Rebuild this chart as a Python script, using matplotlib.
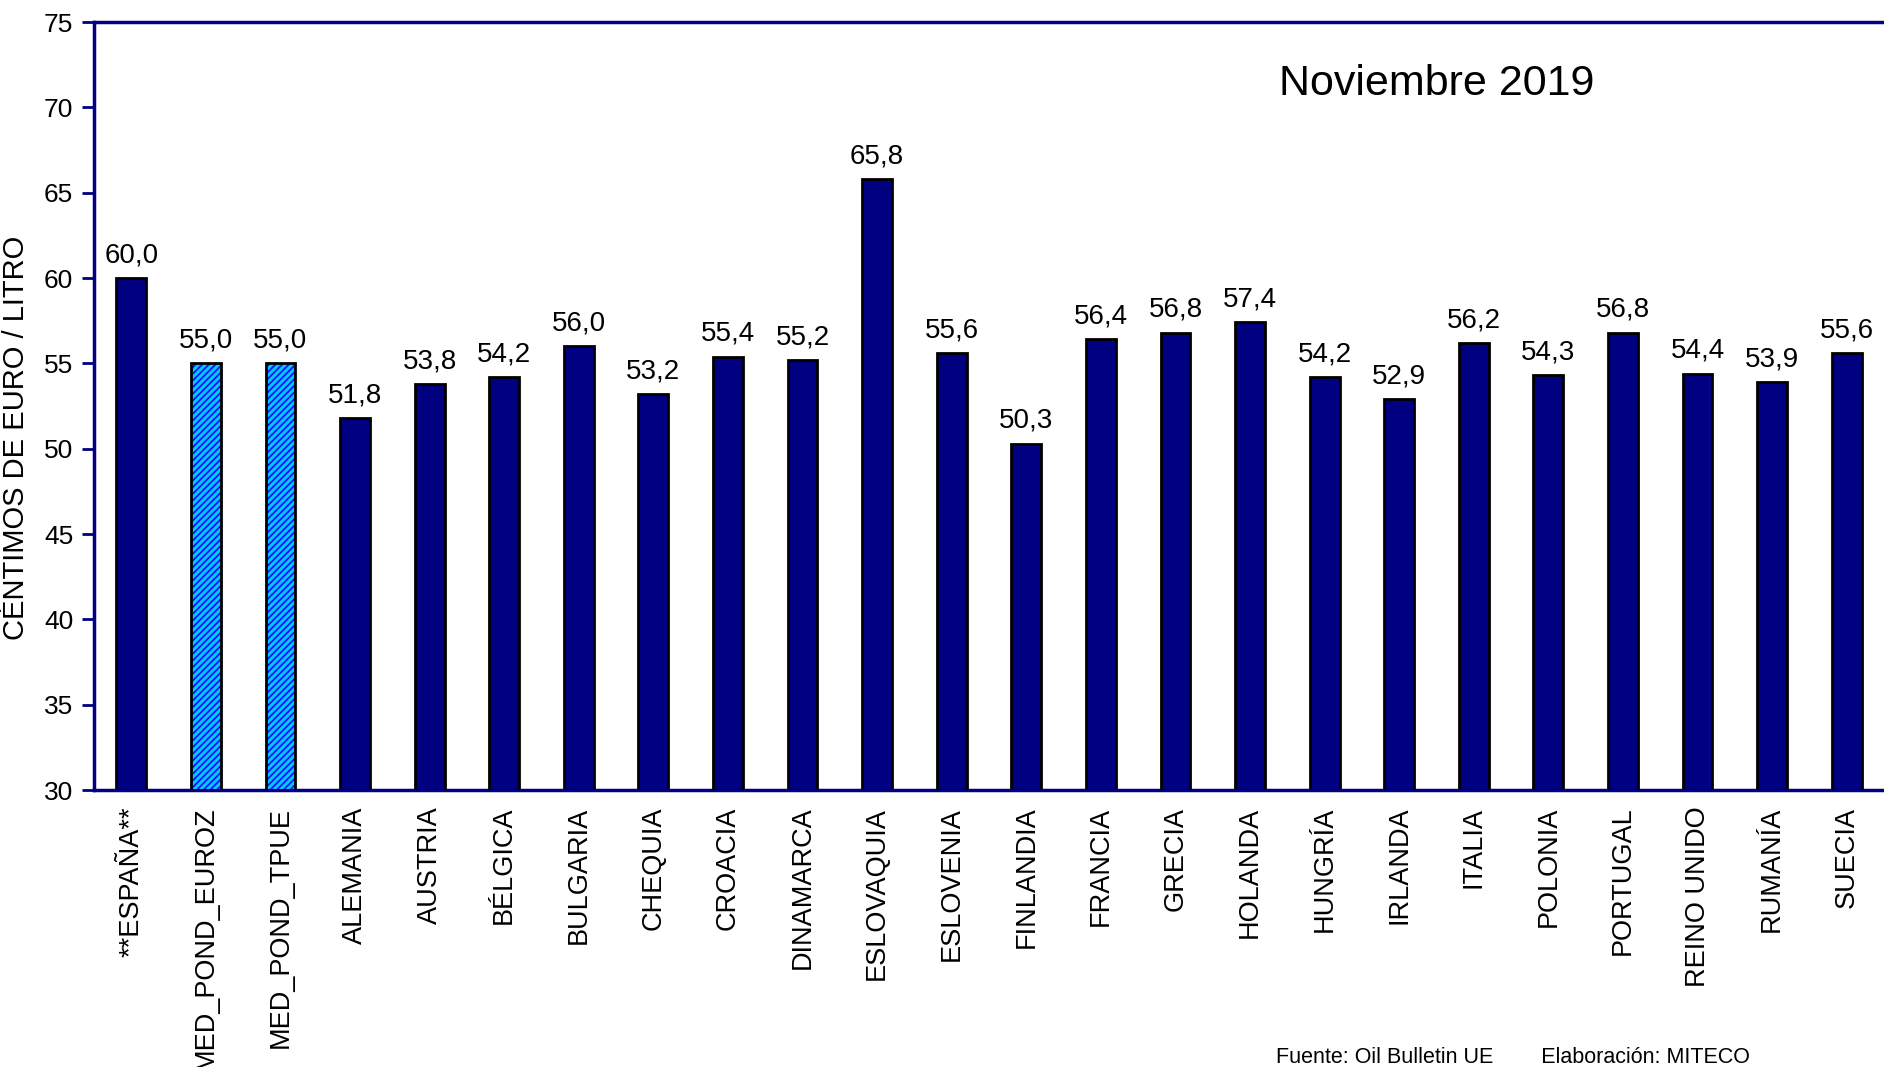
import matplotlib.pyplot as plt
import numpy as np

plt.rcParams['font.family'] = ['Liberation Sans', 'DejaVu Sans']
plt.rcParams['hatch.linewidth'] = 1.3

paises = ['**ESPAÑA**', 'MED_POND_EUROZ', 'MED_POND_TPUE', 'ALEMANIA', 'AUSTRIA',
          'BÉLGICA', 'BULGARIA', 'CHEQUIA', 'CROACIA', 'DINAMARCA', 'ESLOVAQUIA',
          'ESLOVENIA', 'FINLANDIA', 'FRANCIA', 'GRECIA', 'HOLANDA', 'HUNGRÍA',
          'IRLANDA', 'ITALIA', 'POLONIA', 'PORTUGAL', 'REINO UNIDO', 'RUMANÍA', 'SUECIA']
precios = [60.0, 55.0, 55.0, 51.8, 53.8, 54.2, 56.0, 53.2, 55.4, 55.2, 65.8,
           55.6, 50.3, 56.4, 56.8, 57.4, 54.2, 52.9, 56.2, 54.3, 56.8, 54.4, 53.9, 55.6]
medias = ['MED_POND_EUROZ', 'MED_POND_TPUE']
yticks = [30, 35, 40, 45, 50, 55, 60, 65, 70, 75]

navy = '#000080'
x = np.arange(len(paises))
es_media = np.array([p in medias for p in paises])
vals = np.array(precios)

fig = plt.figure(figsize=(18.84, 10.67), dpi=100)
ax = fig.add_axes([94 / 1884, 1 - 790 / 1067, 1 - 94 / 1884, (790 - 22) / 1067])

w = 0.4
bottom = 30
ax.bar(x[~es_media], vals[~es_media] - bottom, bottom=bottom, width=w,
       color=navy, edgecolor='black', linewidth=2, zorder=3)
# barras de medias: relleno cian con rayado azul + contorno negro
ax.bar(x[es_media], vals[es_media] - bottom, bottom=bottom, width=w,
       color='#00CCFF', edgecolor='#1010FF', hatch='/////', linewidth=0, zorder=3)
ax.bar(x[es_media], vals[es_media] - bottom, bottom=bottom, width=w,
       fill=False, edgecolor='black', linewidth=2, zorder=4)

for xi, v in zip(x, precios):
    ax.annotate(f'{v:.1f}'.replace('.', ','), (xi, v), xytext=(0, 7),
                textcoords='offset points', ha='center', va='bottom', fontsize=20)

ax.set_xlim(-0.5, len(paises) - 0.5)
ax.set_ylim(30, 75)
ax.set_yticks(yticks)
ax.set_xticks(x)
ax.set_xticklabels(paises, rotation=90, fontsize=19.5)
ax.tick_params(axis='x', length=0, pad=12)
ax.tick_params(axis='y', direction='out', length=9, width=2, color=navy, labelsize=19, pad=6)

for s in ['left', 'bottom', 'top']:
    ax.spines[s].set_color(navy)
    ax.spines[s].set_linewidth(2.5)
ax.spines['right'].set_visible(False)

fig.text(1437 / 1884, 1 - 84 / 1067, 'Noviembre 2019', ha='center', va='center', fontsize=31)
fig.text(16 / 1884, 1 - 438 / 1067, 'CÉNTIMOS DE EURO / LITRO', rotation=90,
         ha='center', va='center', fontsize=21)
fig.text(1276 / 1884, 1 - 1063 / 1067, 'Fuente: Oil Bulletin UE        Elaboración: MITECO',
         ha='left', va='baseline', fontsize=15.5)

fig.savefig('out.png', dpi=100)
